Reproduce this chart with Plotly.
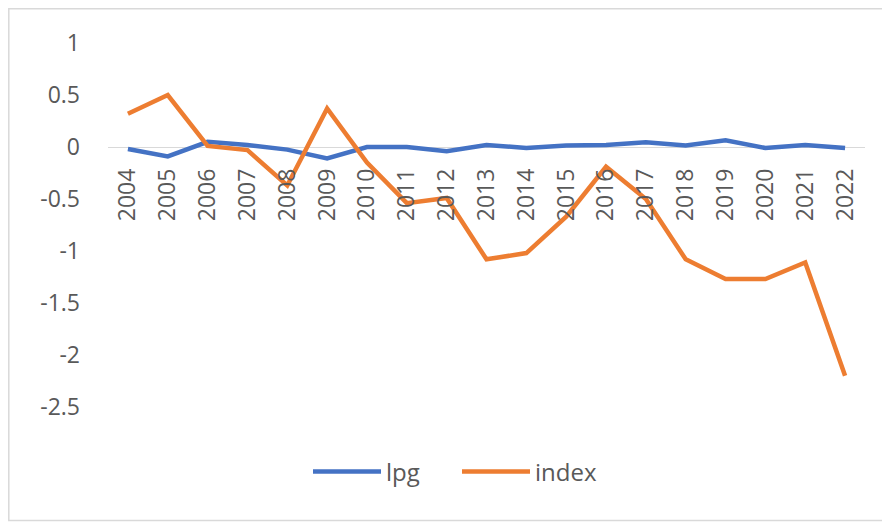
import plotly.graph_objects as go

years = [str(y) for y in range(2004, 2023)]
lpg = [-0.02, -0.09, 0.05, 0.02, -0.025, -0.11, 0.0, 0.0, -0.04, 0.02,
       -0.01, 0.015, 0.02, 0.045, 0.015, 0.065, -0.01, 0.02, -0.01]
index = [0.32, 0.50, 0.01, -0.03, -0.37, 0.37, -0.15, -0.54, -0.49, -1.08,
         -1.02, -0.67, -0.19, -0.50, -1.08, -1.27, -1.27, -1.11, -2.20]
y_ticks = [1, 0.5, 0, -0.5, -1, -1.5, -2, -2.5]
y_tick_text = ["1", "0.5", "0", "-0.5", "-1", "-1.5", "-2", "-2.5"]

# page body has an 8px default margin; work in screen pixels and offset
OFF = 8
W, H = 890 - OFF, 523 - OFF
L, R, T, B = 108 - OFF, 25, 43 - OFF, 523 - 407
pw, ph = W - L - R, H - T - B
y_min, y_max = -2.5, 1.0


def px_to_paper_y(py):
    return (H - B - (py - OFF)) / ph


def px_to_paper_x(px):
    return ((px - OFF) - L) / pw


fig = go.Figure()
fig.add_trace(go.Scatter(x=years, y=lpg, name="lpg", mode="lines",
                         line=dict(color="#4472C4", width=4.5)))
fig.add_trace(go.Scatter(x=years, y=index, name="index", mode="lines",
                         line=dict(color="#ED7D31", width=4.5)))

zero_pos = (0 - y_min) / (y_max - y_min)

fig.update_layout(
    width=W, height=H,
    margin=dict(l=L, r=R, t=T, b=B, autoexpand=False),
    paper_bgcolor="white", plot_bgcolor="white",
    font=dict(family="Open Sans, Liberation Sans, sans-serif", size=23, color="#595959"),
    showlegend=True,
    legend=dict(orientation="h", xref="container", yref="container",
                x=(457 - OFF) / W, xanchor="center", y=(H - (472 - OFF)) / H, yanchor="middle",
                font=dict(size=24, color="#595959"), itemwidth=68,
                entrywidth=66, entrywidthmode="pixels",
                bgcolor="rgba(0,0,0,0)"),
    xaxis=dict(type="category", range=[-0.5, 18.5], showgrid=False, zeroline=False,
               showline=False, tickangle=-90, anchor="free", position=zero_pos,
               automargin=False, ticklabelstandoff=16,
               tickfont=dict(size=23, color="#595959")),
    yaxis=dict(range=[y_min, y_max], tickvals=y_ticks, ticktext=y_tick_text,
               showgrid=False, zeroline=True, zerolinecolor="#D9D9D9", zerolinewidth=1.3,
               showline=False, ticklabelstandoff=27, automargin=False,
               tickfont=dict(size=23, color="#595959")),
)

fig.add_shape(type="rect", xref="paper", yref="paper",
              x0=px_to_paper_x(8.8), x1=px_to_paper_x(905),
              y0=px_to_paper_y(520.5), y1=px_to_paper_y(8.8),
              line=dict(color="#D9D9D9", width=1.5), fillcolor="rgba(0,0,0,0)", layer="below")

fig.write_html("out.html")
